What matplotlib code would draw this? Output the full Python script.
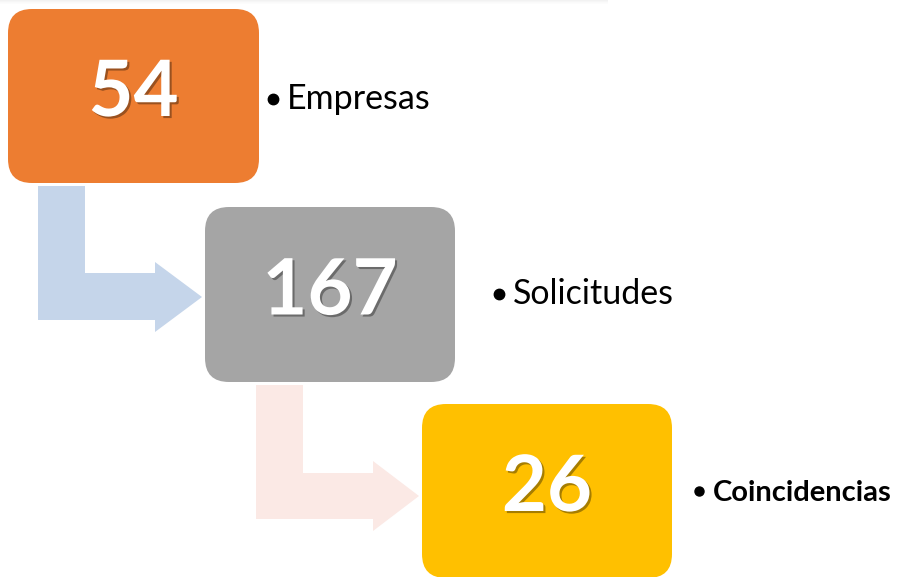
import matplotlib
matplotlib.use('Agg')
import matplotlib.pyplot as plt
from matplotlib.patches import FancyBboxPatch, Polygon, Rectangle
import matplotlib.patheffects as pe

# data
values = ['54', '167', '26']
labels = ['Empresas', 'Solicitudes', 'Coincidencias']
label_bold = [False, False, True]

# styles / layout (pixel units, y down)
box_colors = ['#ED7D31', '#A5A5A5', '#FFC000']
arrow_colors = ['#C5D5EA', '#FBE9E5']
boxes = [(8, 9, 251, 174), (205, 207, 250, 175), (422, 404, 250, 174)]
label_pos = [(268, 109), (494, 304), (694, 501)]
font = 'Lato'

W, H = 898, 577
fig = plt.figure(figsize=(W / 100, H / 100), dpi=100)
ax = fig.add_axes([0, 0, 1, 1])
ax.set_xlim(0, W)
ax.set_ylim(H, 0)
ax.axis('off')

# faint top edge shadow
for i, a in enumerate([0.10, 0.07, 0.04, 0.02]):
    ax.add_patch(Rectangle((0, i), 608, 1, color='#808080', alpha=a, lw=0))


def bent_arrow(x0, x1, ytop, ybar, ybot, xhead, yh0, yh1, xtip, color):
    pts = [(x0, ytop), (x1, ytop), (x1, ybar), (xhead, ybar), (xhead, yh0),
           (xtip, (yh0 + yh1) / 2), (xhead, yh1), (xhead, ybot), (x0, ybot)]
    ax.add_patch(Polygon(pts, closed=True, fc=color, ec='none', zorder=1))


bent_arrow(38, 85, 186, 273, 320, 155, 262, 332, 202, arrow_colors[0])
bent_arrow(256, 303, 385, 473, 519, 373, 461, 531, 419, arrow_colors[1])

for (x, y, w, h), c, v in zip(boxes, box_colors, values):
    ax.add_patch(FancyBboxPatch((x, y), w, h,
                                boxstyle='round,pad=0,rounding_size=24',
                                fc=c, ec='none', zorder=2))
    ax.text(x + w / 2, y + h / 2 - 2, v, color='white', fontsize=56,
            fontweight='bold', family=font, ha='center', va='center',
            zorder=3,
            path_effects=[pe.SimplePatchShadow(offset=(1.5, -1.5),
                                               shadow_rgbFace='black',
                                               alpha=0.35),
                          pe.Normal()])

for (x, y), t, b in zip(label_pos, labels, label_bold):
    ax.plot(x + 5, y - 10.5, 'o', ms=6.5 if b else 7.5, color='black', zorder=3)
    ax.text(x + 19, y, t, fontsize=21 if b else 24.5, family=font,
            fontweight='bold' if b else 'normal', color='black',
            ha='left', va='baseline', zorder=3)

fig.savefig('out.png', dpi=100)
